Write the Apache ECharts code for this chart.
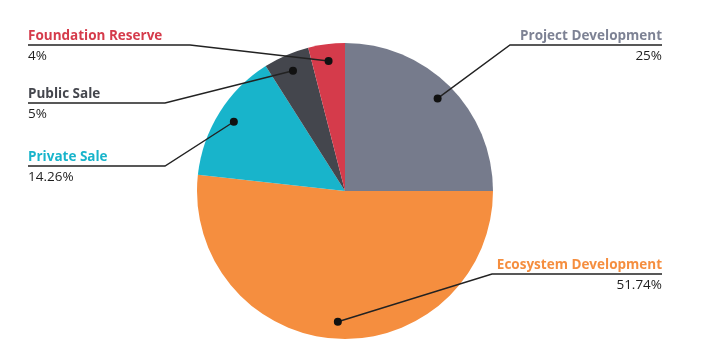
<!DOCTYPE html>
<html>
<head>
<meta charset="UTF-8">
<title>Token Allocation</title>
<style>
    body{ margin:0; background:#ffffff; }
    #main{ width:720px; height:355px; }
</style>
<script src="https://cdn.jsdelivr.net/npm/echarts@6/dist/echarts.min.js"></script>
</head>
<body>
<div id="main"></div>
<script type="text/javascript">
    // data
    var names = ['Project Development', 'Ecosystem Development', 'Private Sale', 'Public Sale', 'Foundation Reserve'];
    var shares = [25, 51.74, 14.26, 5, 4];
    var colors = ['#767b8c', '#f58e3f', '#18b4cb', '#44464d', '#d53b4b'];

    // layout of the labels: [underline end x, underline y, elbow x, side]
    var labelPos = [
        [662, 45, 510, 'right'],
        [662, 274, 492, 'right'],
        [28, 166, 165, 'left'],
        [28, 103, 165, 'left'],
        [28, 45, 190, 'left']
    ];
    var CX = 345, CY = 191, R = 148, DOT = 0.885;

    var myChart = echarts.init(document.getElementById('main'));

    var pieData = names.map(function (n, i) {
        return { name: n, value: shares[i], itemStyle: { color: colors[i] } };
    });
    // same slices, invisible, only used to carry labels and leader lines above the colours
    var labelData = names.map(function (n, i) {
        return { name: n, value: shares[i] };
    });

    // dots at the middle of each slice, placed on a polar system matching the pie
    var dotData = [];
    var acc = 0;
    for (var i = 0; i < shares.length; i++) {
        dotData.push([DOT, acc + shares[i] / 2]);
        acc += shares[i];
    }

    var rich = { p: { fontFamily: 'Open Sans', fontSize: 13.5, color: '#1e1e1e', lineHeight: 20 } };
    for (var k = 0; k < colors.length; k++) {
        rich['n' + k] = {
            fontFamily: 'Open Sans', fontSize: 13.5, fontWeight: 'bold',
            color: k === 0 ? '#7d8294' : colors[k], lineHeight: 20
        };
    }

    var option = {
        backgroundColor: '#ffffff',
        animation: false,
        polar: { center: [CX, CY], radius: R },
        angleAxis: { type: 'value', min: 0, max: acc, startAngle: 90, clockwise: true, show: false },
        radiusAxis: { type: 'value', min: 0, max: 1, show: false },
        series: [
            {
                type: 'pie',
                z: 2,
                center: [CX, CY],
                radius: R,
                startAngle: 90,
                clockwise: true,
                data: pieData,
                emphasis: { disabled: true },
                label: { show: false },
                labelLine: { show: false }
            },
            {
                type: 'pie',
                z: 3,
                silent: true,
                center: [CX, CY],
                radius: R,
                startAngle: 90,
                clockwise: true,
                data: labelData,
                itemStyle: { color: 'rgba(0,0,0,0)' },
                emphasis: { disabled: true },
                label: {
                    show: true,
                    formatter: function (p) {
                        return '{n' + p.dataIndex + '|' + p.name + '}\n{p|' + p.value + '%}';
                    },
                    rich: rich
                },
                labelLine: {
                    show: true,
                    lineStyle: { color: '#222222', width: 1.4 }
                },
                labelLayout: function (params) {
                    var lp = labelPos[params.dataIndex];
                    var pts = params.labelLinePoints;
                    var start = [CX + (pts[0][0] - CX) * DOT, CY + (pts[0][1] - CY) * DOT];
                    return {
                        x: lp[0],
                        y: lp[1] + 1,
                        align: lp[3],
                        verticalAlign: 'middle',
                        labelLinePoints: [start, [lp[2], lp[1]], [lp[0], lp[1]]]
                    };
                }
            },
            {
                type: 'scatter',
                coordinateSystem: 'polar',
                symbol: 'circle',
                symbolSize: 8,
                itemStyle: { color: '#111111', opacity: 1 },
                silent: true,
                z: 5,
                data: dotData
            }
        ]
    };
    myChart.setOption(option);
</script>
</body>
</html>
